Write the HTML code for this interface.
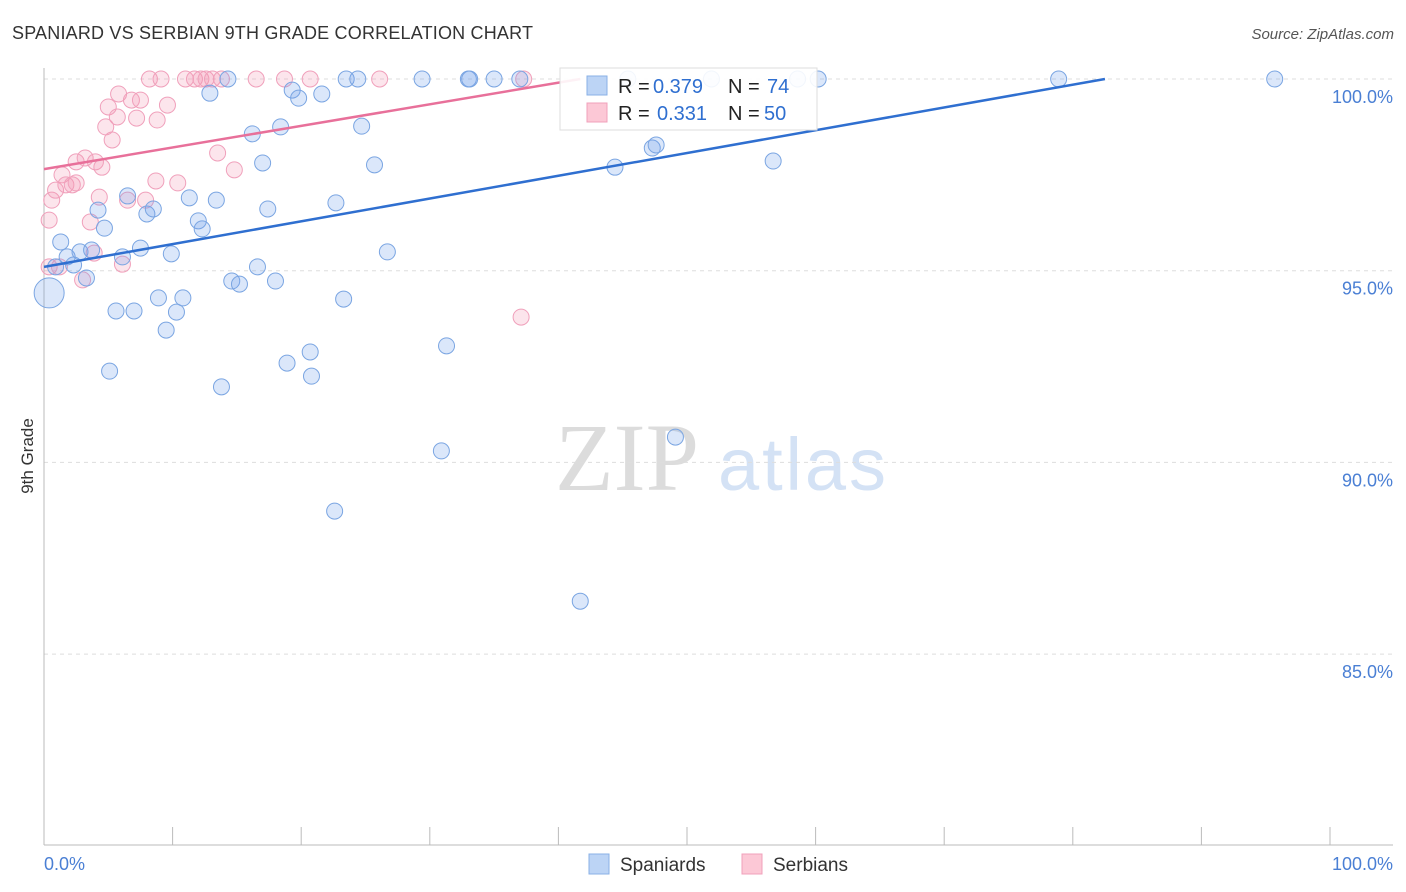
<!DOCTYPE html>
<html><head><meta charset="utf-8"><style>
body{margin:0;background:#fff;font-family:"Liberation Sans",sans-serif;}
#wrap{position:relative;width:1406px;height:892px;overflow:hidden;}
</style></head><body>
<div id="wrap">
<svg id="svg" width="1406" height="892">
<text x="12" y="39" font-size="18" fill="#333" textLength="521">SPANIARD VS SERBIAN 9TH GRADE CORRELATION CHART</text>
<text x="1394" y="39" font-size="15" fill="#555" font-style="italic" text-anchor="end">Source: ZipAtlas.com</text>
<text transform="translate(33,456) rotate(-90)" font-size="17" fill="#333" text-anchor="middle">9th Grade</text>
<text x="555" y="490" font-size="96" fill="#dcdcdc" font-family="Liberation Serif,serif">ZIP</text>
<text x="718" y="490" font-size="74" fill="#d4e2f5" textLength="168">atlas</text>
<g id="grid"></g><g id="marks"></g>
</svg>
</div>
<script>
const yTicks=[100,95,90,85];
const xTickLabels=["0.0%","100.0%"];
const blueX=[0.4,0.9,1.3,1.8,2.3,2.8,3.3,3.7,4.2,4.7,5.1,5.6,6.1,6.5,7.0,7.5,8.0,8.5,8.9,9.5,9.9,10.3,10.8,11.3,12.0,12.3,12.9,13.4,13.8,14.3,14.6,15.2,16.2,16.6,17.0,17.4,18.0,18.4,18.9,19.3,19.8,20.7,20.8,21.6,22.6,22.7,23.3,23.5,24.4,24.7,25.7,26.7,29.4,30.9,31.3,33.0,33.1,35.0,37.0,41.7,44.4,45.4,47.3,47.6,49.1,51.9,56.7,58.6,60.2,78.9,95.7];
const blueY=[94.42,95.10,95.75,95.36,95.15,95.49,94.81,95.54,96.58,96.11,92.38,93.95,95.36,96.95,93.95,95.59,96.48,96.61,94.29,93.45,95.44,93.92,94.29,96.90,96.30,96.09,99.63,96.84,91.97,100,94.73,94.65,98.57,95.10,97.81,96.61,94.73,98.75,92.59,99.71,99.50,92.88,92.25,99.61,88.73,96.77,94.26,100,100,98.77,97.76,95.49,100,90.30,93.04,100,100,100,100,86.38,97.70,100,98.20,98.28,90.66,100,97.86,100,100,100,100];
const pinkX=[0.4,0.4,0.6,0.9,1.4,1.7,2.2,2.5,2.5,3.2,3.6,4.0,4.3,4.5,4.8,5.0,5.3,5.7,5.8,6.1,6.5,6.8,7.2,7.5,7.9,8.2,8.7,8.8,9.1,9.6,10.4,11.0,11.7,12.2,12.6,13.1,13.5,13.8,14.8,16.5,18.7,20.7,26.1,37.1,37.3,3.0,3.9,1.2];
const pinkY=[95.10,96.32,96.84,97.10,97.50,97.24,97.24,97.29,97.84,97.94,96.27,97.84,96.92,97.70,98.75,99.27,98.41,99.01,99.61,95.17,96.84,99.45,98.98,99.45,96.84,100,97.34,98.93,100,99.32,97.29,100,100,100,100,100,98.07,100,97.63,100,100,100,100,93.79,100,94.76,95.46,95.10];
const blueTrend=[[0,95.1],[82.5,100]];
const pinkTrend=[[0,97.65],[41.7,100]];
const NS="http://www.w3.org/2000/svg";
const sx=v=>44+v*12.86, sy=v=>79+(100-v)*38.34;
function mk(t,a,p){const e=document.createElementNS(NS,t);for(const k in a)e.setAttribute(k,a[k]);p.appendChild(e);return e;}
const g=document.getElementById('grid'), m=document.getElementById('marks');
yTicks.forEach(t=>{
 const l=mk('line',{x1:44,x2:1393,y1:sy(t),y2:sy(t),stroke:'#ddd','stroke-dasharray':'4,4'},g);
 
 
 const tx=mk('text',{x:1393,y:sy(t)+24,'font-size':18,fill:'#4a7fd4','text-anchor':'end'},g);
 tx.textContent=t.toFixed(1)+'%';
 
 
});
let a=mk('line',{x1:44,x2:44,y1:68,y2:845,stroke:'#bbb'},g);


a=mk('line',{x1:44,x2:1393,y1:845,y2:845,stroke:'#bbb'},g);


for(let i=0;i<=10;i++){const tk=mk('line',{x1:sx(i*10),x2:sx(i*10),y1:827,y2:845,stroke:'#bbb'},g);
 
 }
[[44,'start'],[1393,'end']].forEach((p,i)=>{const tx=mk('text',{x:p[0],y:870,'font-size':18,fill:'#4a7fd4','text-anchor':p[1]},g);tx.textContent=xTickLabels[i];
 
 });
function pts(X,Y,fill,stroke,name){X.forEach((x,i)=>{const r=(name==='spaniard-point'&&i===0)?15:8;
 const c=mk('circle',{cx:sx(x),cy:sy(Y[i]),r:r,fill:fill,stroke:stroke,'stroke-width':1},m);
 
 });}
pts(pinkX,pinkY,'rgba(244,150,180,0.25)','#f0a0bb','serbian-point');
pts(blueX,blueY,'rgba(110,160,235,0.25)','#7aa5e2','spaniard-point');
let tl=mk('line',{x1:sx(blueTrend[0][0]),y1:sy(blueTrend[0][1]),x2:sx(blueTrend[1][0]),y2:sy(blueTrend[1][1]),stroke:'#2f6fd0','stroke-width':2.5},m);


tl=mk('line',{x1:sx(pinkTrend[0][0]),y1:sy(pinkTrend[0][1]),x2:sx(pinkTrend[1][0]),y2:sy(pinkTrend[1][1]),stroke:'#e8709a','stroke-width':2.5},m);


</script>
<svg style="position:absolute;left:0;top:0" width="1406" height="892">
<g font-size="20">
<rect x="560" y="68" width="257" height="62" fill="rgba(255,255,255,0.9)" stroke="#ddd"/>
<rect x="587" y="76" width="20" height="19" fill="#bcd4f5" stroke="#8ab0e6"/>
<rect x="587" y="103" width="20" height="19" fill="#fcc8d6" stroke="#f0a0bb"/>
<text x="618" y="93" fill="#222">R =</text>
<text x="653" y="93" fill="#2f6fd0">0.379</text>
<text x="728" y="93" fill="#222">N =</text>
<text x="767" y="93" fill="#2f6fd0">74</text>
<text x="618" y="120" fill="#222">R =</text>
<text x="657" y="120" fill="#2f6fd0">0.331</text>
<text x="728" y="120" fill="#222">N =</text>
<text x="764" y="120" fill="#2f6fd0">50</text>
</g>
<g>
<rect x="589" y="854" width="20" height="20" fill="#bcd4f5" stroke="#8ab0e6"/>
<text x="620" y="871" font-size="19" fill="#333">Spaniards</text>
<rect x="742" y="854" width="20" height="20" fill="#fcc8d6" stroke="#f0a0bb"/>
<text x="773" y="871" font-size="19" fill="#333">Serbians</text>
</g>
</svg>
</body></html>
